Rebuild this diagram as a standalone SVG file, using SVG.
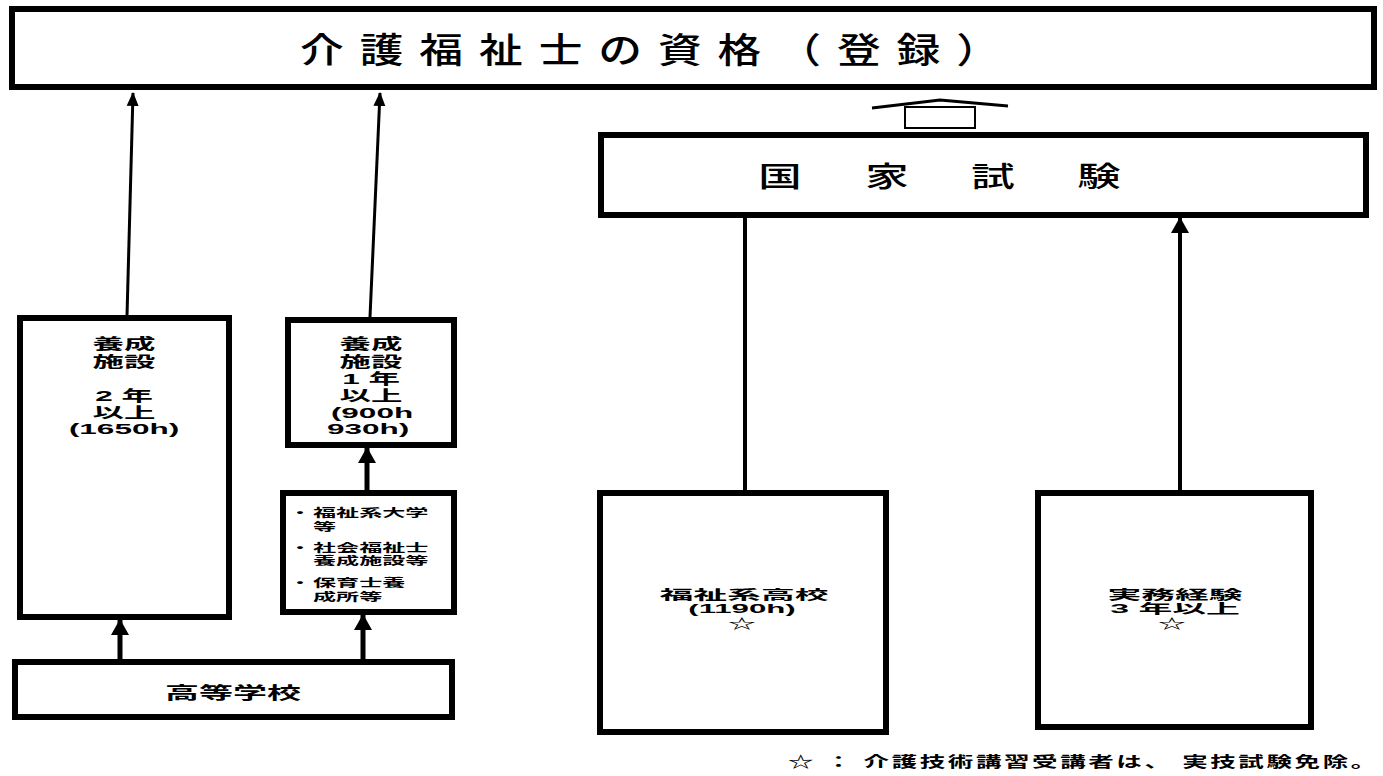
<svg xmlns="http://www.w3.org/2000/svg" width="1383" height="776" viewBox="0 0 1383 776">
<defs>
<style>
.box{fill:#fff;stroke:#000;stroke-width:6}
.t{font-family:"Liberation Sans","Noto Sans CJK JP",sans-serif;font-weight:bold;fill:#000;text-anchor:middle}
.ts{font-family:"Liberation Sans","Noto Sans CJK JP",sans-serif;font-weight:bold;fill:#000;text-anchor:start}
.tm{font-family:"Liberation Sans","Noto Sans CJK JP",sans-serif;font-weight:500;fill:#000;text-anchor:middle}
.ln{stroke:#000;fill:none}
</style>
<marker id="ah" markerUnits="userSpaceOnUse" markerWidth="14" markerHeight="14" refX="13" refY="7" orient="auto">
<path d="M0,1 L14,7 L0,13 z" fill="#000"/>
</marker>
<marker id="ahb" markerUnits="userSpaceOnUse" markerWidth="16" markerHeight="18" refX="15" refY="9" orient="auto">
<path d="M0,0 L16,9 L0,18 z" fill="#000"/>
</marker>
</defs>
<rect width="1383" height="776" fill="#fff"/>

<g id="connectors">
<line class="ln" x1="127" y1="316" x2="133" y2="93" stroke-width="3" marker-end="url(#ah)"/>
<line class="ln" x1="370" y1="317" x2="380" y2="93" stroke-width="3" marker-end="url(#ah)"/>
<line class="ln" x1="367" y1="490" x2="367" y2="448" stroke-width="5" marker-end="url(#ahb)"/>
<line class="ln" x1="120" y1="659" x2="120" y2="620" stroke-width="5" marker-end="url(#ahb)"/>
<line class="ln" x1="363" y1="659" x2="363" y2="615" stroke-width="5" marker-end="url(#ahb)"/>
<line class="ln" x1="745" y1="490" x2="745" y2="218" stroke-width="4"/>
<line class="ln" x1="1180" y1="490" x2="1180" y2="218" stroke-width="4" marker-end="url(#ahb)"/>
<g id="hollow-arrow">
<polyline class="ln" points="872,108 940,100 1008,106" stroke-width="3"/>
<rect x="905" y="107" width="70" height="21" fill="#fff" stroke="#000" stroke-width="2"/>
</g>
</g>

<g id="node-qualification">
<rect class="box" x="12" y="9" width="1362" height="78" stroke-width="7"/>
<text class="tm" font-size="35" transform="translate(650,63) scale(1.25,1)" textLength="560" lengthAdjust="spacing">介護福祉士の資格（登録）</text>
</g>

<g id="node-exam">
<rect class="box" x="601" y="135" width="765" height="80"/>
<text class="tm" font-size="28" transform="translate(780,187) scale(1.55,1)">国</text>
<text class="tm" font-size="28" transform="translate(887,187) scale(1.55,1)">家</text>
<text class="tm" font-size="28" transform="translate(993,187) scale(1.55,1)">試</text>
<text class="tm" font-size="28" transform="translate(1099,187) scale(1.55,1)">験</text>
</g>

<g id="node-training2">
<rect class="box" x="20" y="318" width="209" height="299"/>
<text class="t" font-size="15" transform="translate(124,349) scale(2.1,1)">養成</text>
<text class="t" font-size="15" transform="translate(124,367) scale(2.1,1)">施設</text>
<text class="t" font-size="15" transform="translate(124,401) scale(2.1,1)">2 年</text>
<text class="t" font-size="15" transform="translate(124,418) scale(2.1,1)">以上</text>
<text class="t" font-size="15" transform="translate(124,434) scale(2.1,1)">(1650h)</text>
</g>

<g id="node-training1">
<rect class="box" x="288" y="320" width="166" height="125"/>
<text class="t" font-size="15" transform="translate(371,349) scale(2.1,1)">養成</text>
<text class="t" font-size="15" transform="translate(371,367) scale(2.1,1)">施設</text>
<text class="t" font-size="15" transform="translate(371,384) scale(2.1,1)">1 年</text>
<text class="t" font-size="15" transform="translate(371,401) scale(2.1,1)">以上</text>
<text class="t" font-size="15" transform="translate(372,418) scale(2.1,1)">(900h</text>
<text class="t" font-size="15" transform="translate(368,434) scale(2.1,1)">930h)</text>
</g>

<g id="node-welfare-univ">
<rect class="box" x="283" y="493" width="171" height="119"/>
<text class="t" font-size="11" transform="translate(300,517) scale(2.1,1)">・</text>
<text class="ts" font-size="11" transform="translate(313,517) scale(2.1,1)">福祉系大学</text>
<text class="ts" font-size="11" transform="translate(313,531) scale(2.1,1)">等</text>
<text class="t" font-size="11" transform="translate(300,552) scale(2.1,1)">・</text>
<text class="ts" font-size="11" transform="translate(313,552) scale(2.1,1)">社会福祉士</text>
<text class="ts" font-size="11" transform="translate(313,565) scale(2.1,1)">養成施設等</text>
<text class="t" font-size="11" transform="translate(300,587) scale(2.1,1)">・</text>
<text class="ts" font-size="11" transform="translate(313,587) scale(2.1,1)">保育士養</text>
<text class="ts" font-size="11" transform="translate(313,601) scale(2.1,1)">成所等</text>
</g>

<g id="node-highschool">
<rect class="box" x="15" y="662" width="437" height="55"/>
<text class="t" font-size="17" transform="translate(233,699) scale(2,1)">高等学校</text>
</g>

<g id="node-welfare-hs">
<rect class="box" x="600" y="493" width="286" height="239"/>
<text class="t" font-size="13" transform="translate(744,599) scale(2.6,1)">福祉系高校</text>
<text class="t" font-size="13" transform="translate(742,613) scale(2.4,1)">(1190h)</text>
<text class="t" font-size="13" transform="translate(742,628) scale(2.1,1)">☆</text>
</g>

<g id="node-experience">
<rect class="box" x="1038" y="493" width="273" height="234"/>
<text class="t" font-size="13" transform="translate(1175,599) scale(2.6,1)">実務経験</text>
<text class="t" font-size="13" transform="translate(1175,613) scale(2.6,1)">3 年以上</text>
<text class="t" font-size="13" transform="translate(1172,628) scale(2.1,1)">☆</text>
</g>

<g id="footnote">
<text class="ts" font-size="15" transform="translate(788,767) scale(1.7,1)" textLength="346" lengthAdjust="spacing">☆ ： 介護技術講習受講者は、 実技試験免除。</text>
</g>
</svg>
